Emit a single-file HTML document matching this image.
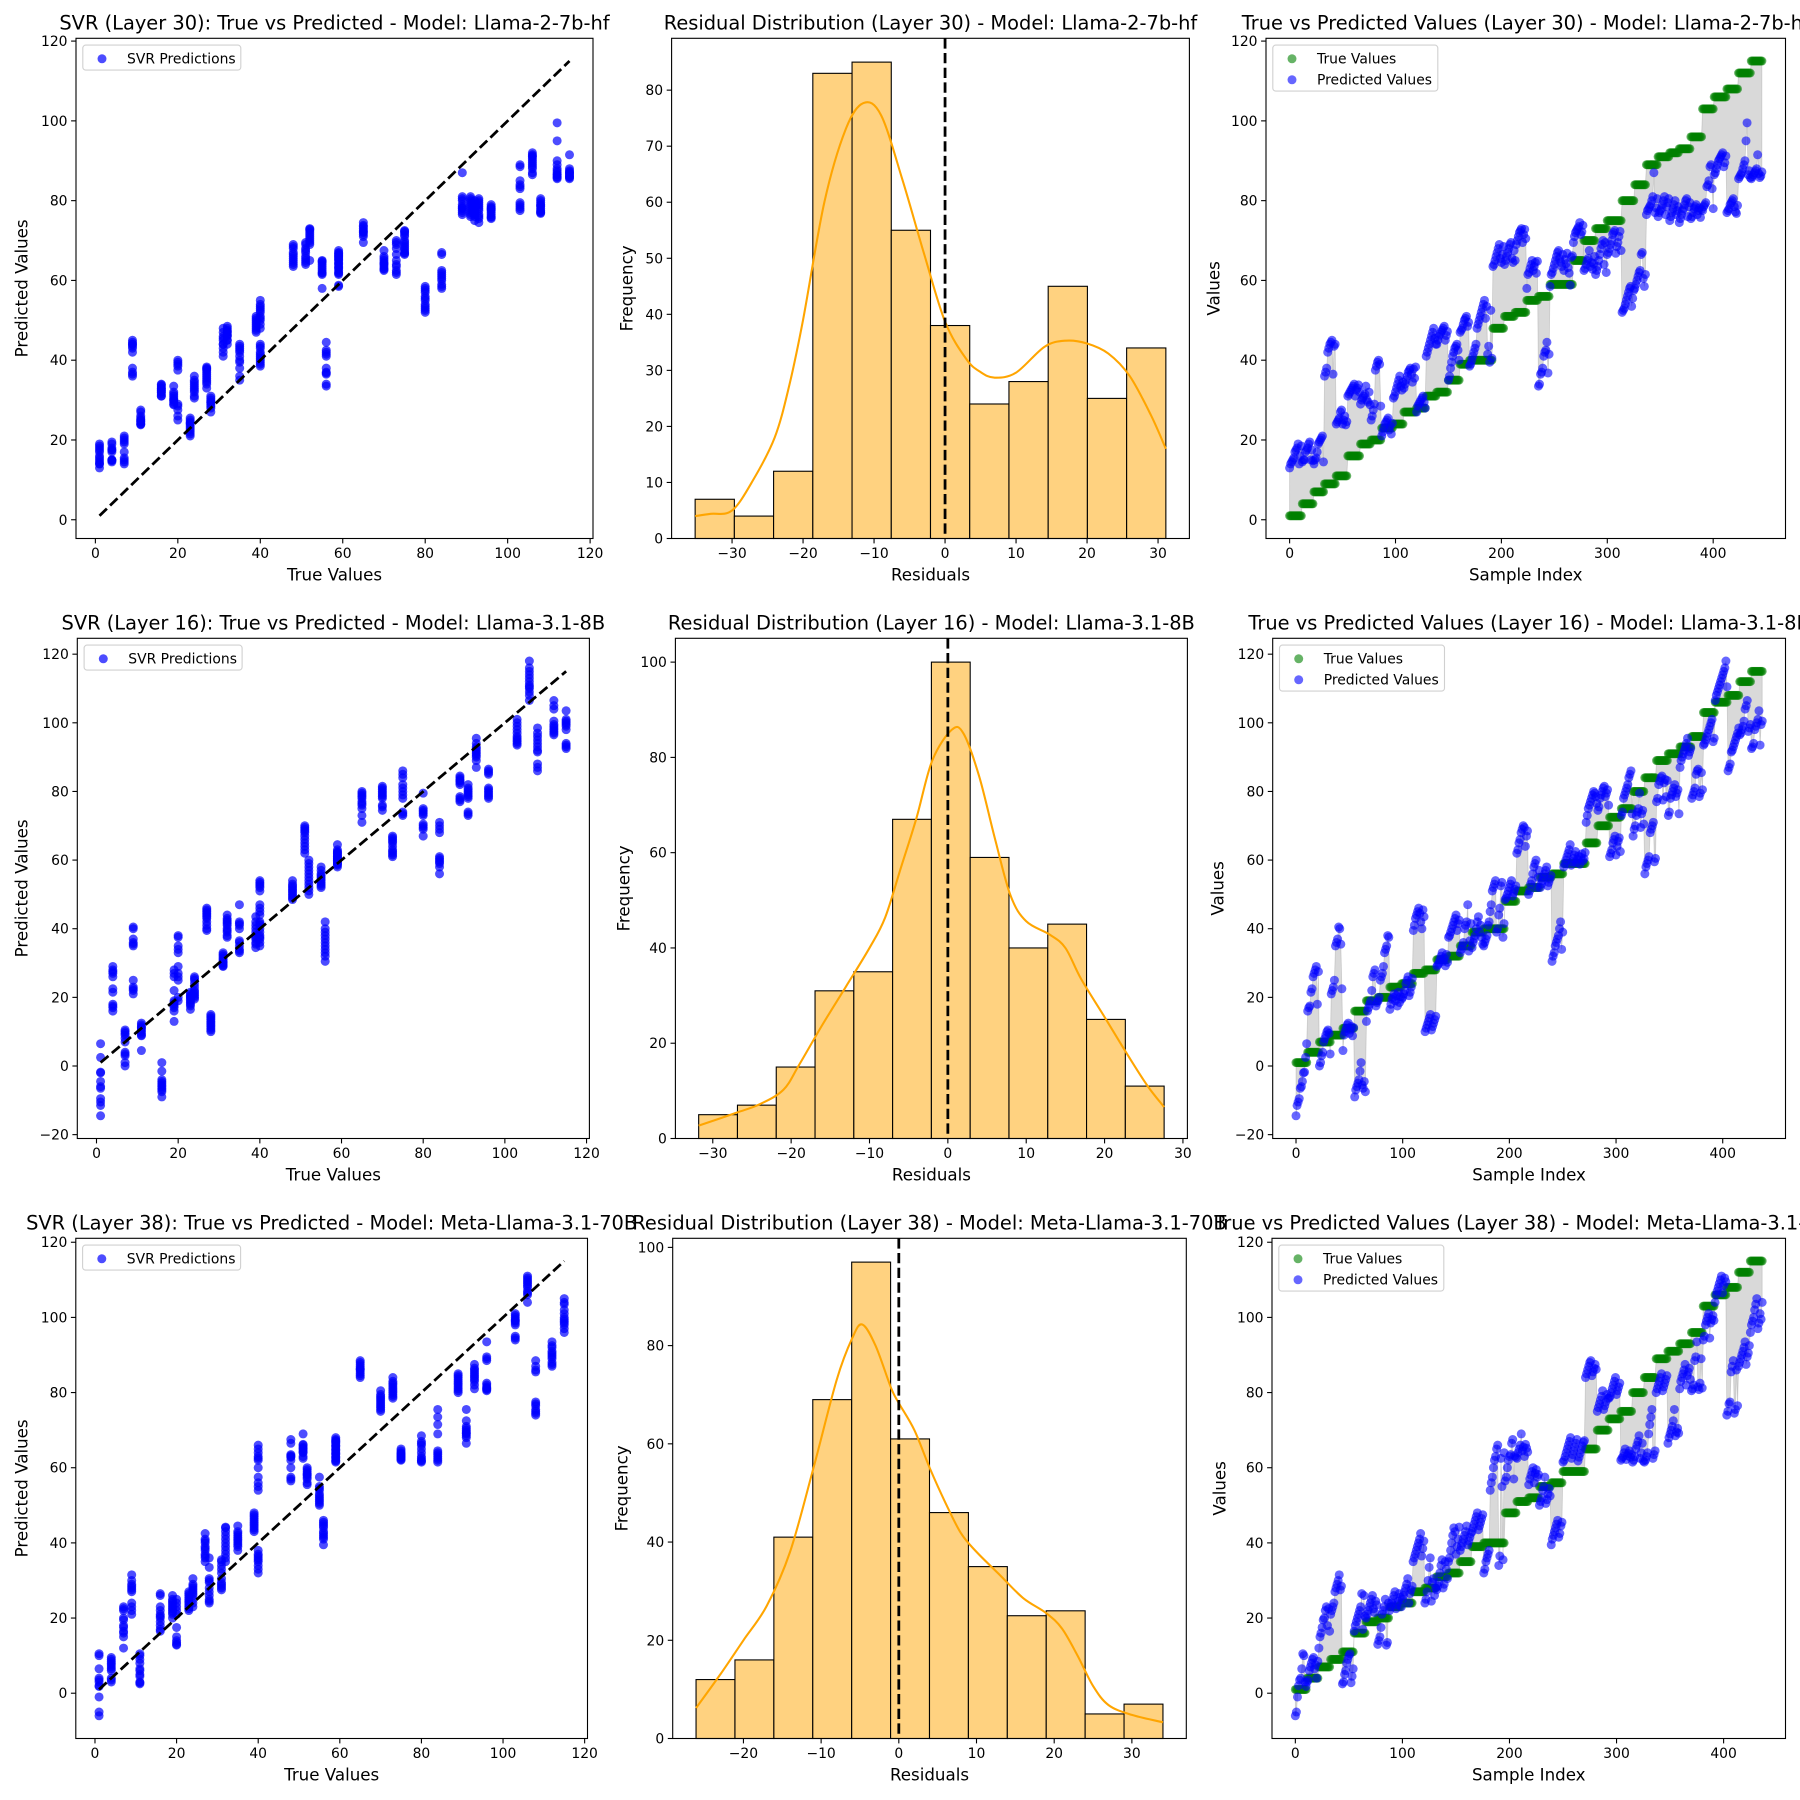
<!DOCTYPE html>
<html><head><meta charset="utf-8"><title>SVR results</title>
<style>html,body{margin:0;padding:0;background:#fff}svg{display:block}</style></head>
<body>
<svg id="fig" xmlns="http://www.w3.org/2000/svg" width="1800" height="1800" viewBox="0 0 1800 1800" font-family="DejaVu Sans, Liberation Sans, sans-serif">
<rect x="0" y="0" width="1800" height="1800" fill="#fff"/>
</svg>
<script>
// ---------- Row 1 data (Layer 30, Llama-2-7b-hf) ----------
const r1True = [1,4,7,9,11,16,19,20,23,24,27,28,31,32,35,39,40,48,51,52,55,56,59,65,70,73,75,80,84,89,91,92,93,96,103,106,108,112,115];
const r1Pred = [
[13,14,14.5,15,15.5,17,17.5,18,19,14,16,18.5],[14.5,15,15,17,17.5,18,19,19.5,15,17.5,14.8],[14,15,15.5,17,19,19.5,20,20.5,21,14.5],
[36,37,38,42,43,44,44.5,45,36.5,43.5,44],[24,24.5,25,25.5,27,27.5,24,25,26,23.8,24.6],[31,31.5,32,32.5,33,33.5,34,31,32.5,33,33.8,32],
[29,30,30.5,31,31.5,33.5,30,29.5,32,28.8],[25,26,27.5,29,37.5,38.5,39.5,40,39,28.5],[21,22,23,24,24.5,25,25.5,22.5,23.5,21.5,24.2],
[30.5,31,32,33,34,35,36,33.5,32.5,34.5],[33,34,35,36,37,37.5,38,36.5,34.5,37.8,35.5,38.3],[27,28.5,29,29.5,30,30.5,31,29.5,28],
[41,42,43,44,45,46,47,48,45.5,44],[44,45,46,46.5,47,47.5,48,48.5,45,46.2,47.2],[35,36,38,39.5,41,42,43,43.5,44,42.5,40],
[47,47.5,48,49,50,50.5,51,48.5,49.5],[38.5,39,40,41,42,43,44,48,49,50,51,52,53,54,55,50.5,53.5,41.5,43.5,39.5,52.5,40.5],
[63.5,64,65,66,67,68,69,65.5,64.5,66.5,68.5],[64,65,66,67,68,69,69.5,65.5,64.5,67.5],[65,69,70,71,72,72.5,73,69.5,71.5,72.8,70.5],
[58,61.5,62,63,64,65,62.5,63.5,64.5,61.8,64.8],[33.5,34,36.5,37,38,41,42,42.5,44.5,36.8,41.5],
[58.5,61.5,62,63,64,65,66,67,67.5,65.5,64.5,63.5,66.5,62.5,65.2,64.2,66.8,63.2,61.8,58.8,65.8,66.2],
[69.5,71,72,72.5,73,73.5,74.5,71.5,72.2,73.8],[62.5,63,64,65,65.5,67.5,63.5,64.5,62.8,64.2,66],[61.5,62.5,63.5,65,66.5,68,69,70,64,69.5,62],
[66.5,67,68,69,70,71.5,72,72.5,66.8,68.5,69.5,71,72.3,67.5],[52,52.5,53,54,55,56,57,58,58.5,53.5,55.5,57.5],[58,59,60,61,62,62.5,66.5,67,60.5,58.5,61.5],
[76.5,77.5,78,78.5,79,80,81,87,77,78.2,80.5],[76,77,77.5,78,79,80,81,76.5,78.5,79.5,80.5],[75,76,77,78,79,80,76.5,77.5,78.5],
[74.5,75.5,76.5,77.5,78,79,80,80.5,76,78.5,79.5],[75.5,76,77,78,78.5,79,76.5,77.5,78.2,75.8,77.8],[77.5,78.5,79,79.5,83.5,84,85,88.5,89,83,78],
[86.5,87,88,89,90,90.5,91,91.5,92,88.5,89.5,91.2],[77,77.5,78,79,79.5,80,80.5,78.5,77.2,76.8,78.8],[85.5,86,86.5,87,88,89,90,95,99.5,86.5,87.5,85.8],
[85.5,86,86.5,87,87.5,88,91.5,86.8,85.8,86.2,87.2]];
const r1HistRange = [-35.2, 31.1];
const r1HistCounts = [7,4,12,83,85,55,38,24,28,45,25,34];
const r1KdeX = [-35.2,-33,-30,-27,-24,-22,-20,-17,-14,-11.5,-9,-6,-3,0,3,5,7,10,14,17,20,23,26,29,31.1];
const r1KdeY = [4,4.4,5,10.5,18,27,39,60,73,77.7,75.5,64,51,38.7,32,29.7,28.7,29.6,34.2,35.3,34.8,33,29,22,16];
const r1HistYStep = 10;

// ---------- Row 2 data (Layer 16, Llama-3.1-8B) ----------
const r2True = [1,4,7,9,11,16,19,20,23,24,27,28,31,32,35,39,40,48,51,52,55,56,59,65,70,72.5,75,80,84,89,91,93,96,103,106,108,112,115];
const r2Pred = [
[-14.5,-11.5,-10.5,-9.5,-6.5,-6,-4.5,-2,-1.8,2.5,6.5],[16,17,17.5,21.5,22.5,26,27,28,29,18,27.5],[0,1,3,4,7,8,9,10,10.5,9.5,3.5],
[21,22,23,25,35,36,37,40.5,40,35.5,22.5],[4.5,9,10,11,12,12.5,9.5,10.5,11.5,8.8,11.2],[-9,-7,-6,-5,-4,-1.5,1,-5.5,-6.5,-4.5,-7.5],
[13,16,17,18,19,22,26,27,28,17.5,18.5],[19,20,25,26,27,29,33,34,35,38,37.5],[16.5,18,19.5,20,21,19,20.5,17.5,21.5,18.5,20.2],
[19.5,20,21,22,24,25,26,20.5,21.5,23,25.5],[39.5,41,43,44,45,46,44.5,42,40,45.5,43.5],[10,11,12,13,14,15,10.5,11.5,12.5,13.5,14.5],
[29,29.5,30,31,32,33,30.5,31.5,29.2,32.5,30.2],[37.5,38,39,40,41,42,43,44,39.5,41.5,42.5],[33,34,35,36,40,41,42,47,33.5,36.5,41.5],
[34.5,36,37,38,40,42,43.5,39,41,37.5,35.5],[35,36,37,38,41,42,45,47,51,52,53,54,39,40,44,46,52.5,53.5,37.5,41.5],
[48.5,49,50,51,52,53,54,49.5,50.5,51.5,52.5],[62,63,65,66,68,69,70,69.5,64,67,68.5],[50,51,53,54,56,58,59,60,52,55,57],
[52,53,54,55,56,57,58,52.5,53.5,54.5,55.5],[30.5,32,33,35,36,37,38,40,42,34,39],
[58,59,60,61,62,63,64.5,58.5,59.5,60.5,61.5,62.5,59.2,60.2,61.2,58.8,60.8,61.8,59.8,60.4,62.2],
[71,73,75,76,77,78,79,80,79.5,78.5,76.5],[74.5,75.5,78,79,80,81,81.5,78.5,79.5,80.5,76],[61,62,63,65,66,67,61.5,64,65.5,66.5,62.5],
[73,74,78,79,80,81,82,84,85,86,73.5],[67,69,70,73,74,75,79.5,69.5,73.5,74.5,70.5],[56,58,59,60,61,68,69,70,71,59.5,60.5],
[77,78,82,83,84,84.5,77.5,82.5,83.5,78.5,83.2],[73,74,78,79,80,81,82,78.5,79.5,80.5,73.5],[87,89,90,91,92,93,94,95.5,90.5,91.5,92.5],
[78,79,80,81,85,86,86.5,78.5,79.5,85.5,80.5],[93.5,94,95,96,97,98,99,100,101,94.5,95.5],[106.5,108,109,110,111,112,113,114,115,116,118,110.5],
[86,87,88,91.5,92,93,94,95,96,97,98.5],[96.5,97,98,99,100.5,104,105,106.5,97.5,98.5,99.5],[92.5,93,94,98,99,100,101,103.5,93.5,99.5,100.5]];
const r2HistRange = [-31.8, 27.6];
const r2HistCounts = [5,7,15,31,35,67,100,59,40,45,25,11];
const r2KdeX = [-31.8,-27,-24,-21,-19,-16,-13,-10,-8,-6,-4,-2,0.5,2,4,6,8,10,13,15,17,20,23,25.5,27.6];
const r2KdeY = [2.7,5.4,7.2,10.2,15.4,23.9,31.9,40,46.4,56.8,67.3,79.3,85.8,85,76,63,51,45.6,42.8,40,33.5,25.5,17.4,11,6.6];
const r2HistYStep = 20;

// ---------- Row 3 data (Layer 38, Meta-Llama-3.1-70B) ----------
const r3True = [1,4,7,9,11,16,19,20,23,24,27,28,31,32,35,39,40,48,51,52,55,56,59,65,70,73,75,80,84,89,91,93,96,103,106,108,112,115];
const r3Pred = [
[-6,-5,-1,2,3.5,4,6.5,10.5,10,3,1.8],[3,3.5,6,7,8,9,9.5,6.5,7.5,4,8.5],[12,15,16,17.5,19.5,20,22,23,18,22.5,16.5],
[21,22,23,24,27,28,29,30,31.5,27.5,28.5],[2.5,3,5,6,8,9,10,10.5,2.8,4.5,6.5],[16.5,18,19,20,21,22,23,26.5,17,26,20.5],
[20,21,22,23,24,25,26,22.5,21.5,24.5,23.5],[13,14,15,17.5,21,22,23,25,12.8,13.5,24],[22,23,24,25,26,27,22.5,23.5,24.5,26.5,25.5],
[23,25,26,27,28,29,30.5,24,26.5,27.5,28.5],[35,36,37,38,39,40,41,42.5,36.5,38.5,40.5],[24,25,27,30,33.5,36,24.5,29.5,30.5,26,28],
[27.5,28.5,29.5,32,34,35.5,28,29,35,33,30.5],[35,36,38,40,42,44,43,37,39,41,44.2],[38,39,40,41,42,43,44.5,39.5,40.5,41.5,42.5],
[43,44,45,46,47,48,43.5,44.5,45.5,46.5,47.5],[32,33,35,36,37,38,54,56,57.5,60,62,63,65,66,34,36.5,62.5,55,35.5,64],
[56.5,57.5,60,62,63,63.5,66.5,67.5,57,63.2,62.8],[62.5,64,65,66,69,64.5,65.5,63,66.2,65.2,64.2],[55.5,57,58,59,60,56,58.5,59.5,57.5,58.2],
[50,51,52,54,55,57.5,50.5,51.5,53,54.5,52.5],[39.5,41,42,43,44,45,46,41.5,42.5,44.5,45.5],
[61.5,62,63,64,65,66,67,68,62.5,63.5,64.5,65.5,66.5,67.5,61.8,62.8,63.8,64.8,65.8,66.8,67.2],
[84,85,86,87,88,88.5,84.5,85.5,86.5,87.5,86.2],[75,76,77,78,79,80.5,75.5,76.5,77.5,79.5,78.5],[78.5,79,80,81,82,83,84,79.5,80.5,81.5,82.5],
[62,62.5,63,64,65,62.2,63.2,63.8,64.5,62.8,63.5],[61.5,62,63,65,66,67,68.5,62.5,64,66.5,61.8],[61.5,62,63,64,69,71.5,73.5,75.5,62.5,63.5,64.5],
[80,81,82,83,84,85,80.5,81.5,82.5,83.5,84.5],[66.5,68,69,70,71,72.5,75.5,68.5,69.5,70.5,69.2],[81,83,84,85,86,87.5,82,84.5,85.5,86.5,83.5],
[80.5,81,82,88.5,89.5,93.5,81.5,80.8,82.5,89,81.2],[94,95,98,99,100,101,94.5,98.5,99.5,100.5,99.2],[104,106,107,108,109,110,111,106.5,108.5,110.5,109.5],
[74,75,77,77.5,85.5,87,88.5,74.5,75.5,86,76.5],[87,88,89,90,91,92,93.5,87.5,89.5,90.5,92.5],[96,98,99,100,102,103.5,105,97,98.5,101,99.5,104]];
const r3HistRange = [-26.1, 34.0];
const r3HistCounts = [12,16,41,69,97,61,46,35,25,26,5,7];
const r3KdeX = [-26.1,-23,-20,-17,-14,-11,-8,-6,-4.7,-3,-1,0,2,4,6,8,10,13,16,19,21,23,25,27,30,34];
const r3KdeY = [6.2,13,20,27,38,55,73,81.5,84.3,80,71.4,68.3,62.8,55,48,41.8,38,33.3,28.6,25.5,22.4,16.9,10.7,6.8,4.8,3.3];
const r3HistYStep = 20;

const rowTitles = [
  ["SVR (Layer 30): True vs Predicted - Model: Llama-2-7b-hf","Residual Distribution (Layer 30) - Model: Llama-2-7b-hf","True vs Predicted Values (Layer 30) - Model: Llama-2-7b-hf"],
  ["SVR (Layer 16): True vs Predicted - Model: Llama-3.1-8B","Residual Distribution (Layer 16) - Model: Llama-3.1-8B","True vs Predicted Values (Layer 16) - Model: Llama-3.1-8B"],
  ["SVR (Layer 38): True vs Predicted - Model: Meta-Llama-3.1-70B","Residual Distribution (Layer 38) - Model: Meta-Llama-3.1-70B","True vs Predicted Values (Layer 38) - Model: Meta-Llama-3.1-70B"]];

// layout (pixel geometry only)
const layout = [
  {T:38.3,B:538.5,A:[76,593,22],H:[671.6,1189.4,627],C:[1266,1785.5,1214]},
  {T:638.3,B:1138.5,A:[77.3,589.4,22],H:[675.4,1187.4,624],C:[1272.7,1785.5,1218]},
  {T:1238.3,B:1738.5,A:[75.8,587.5,22],H:[672.7,1186.3,622],C:[1272,1785.5,1220]}];

const NS = 'http://www.w3.org/2000/svg';
const svg = document.getElementById('fig');
const MR = 4.5;
function mk(tag, attrs, parent){ const e=document.createElementNS(NS,tag); for(const k in attrs) e.setAttribute(k,attrs[k]); parent.appendChild(e); return e; }
function lin(d0,d1,r0,r1){ return v => r0 + (v-d0)*(r1-r0)/(d1-d0); }
function fmt(v){ return v<0 ? '\u2212'+Math.abs(v) : String(v); }
function pad(lo,hi){ const r=hi-lo; return [lo-0.05*r, hi+0.05*r]; }
function ticks(d0,d1,step){ const out=[]; for(let v=Math.ceil(d0/step-1e-9)*step; v<=d1+1e-9; v+=step) out.push(Math.round(v*1000)/1000); return out; }

function drawAxes(g,L,R,T,B,sx,sy,xt,yt,xlab,ylab,ylx,title){
  const frame = mk('rect',{x:L,y:T,width:R-L,height:B-T,fill:'none',stroke:'#000','stroke-width':1.1},g);
  
  
  xt.forEach(v=>{
    const x=sx(v);
    const tk=mk('line',{x1:x,x2:x,y1:B,y2:B+4.9,stroke:'#000','stroke-width':1.1},g);
    
    
    const t=mk('text',{x:x,y:B+19.5,'font-size':13.9,'text-anchor':'middle',fill:'#000'},g);
    t.textContent=fmt(v);
    
    
  });
  yt.forEach(v=>{
    const y=sy(v);
    const tk=mk('line',{x1:L-4.9,x2:L,y1:y,y2:y,stroke:'#000','stroke-width':1.1},g);
    
    
    const t=mk('text',{x:L-8.5,y:y+5,'font-size':13.9,'text-anchor':'end',fill:'#000'},g);
    t.textContent=fmt(v);
    
    
  });
  const xl=mk('text',{x:(L+R)/2,y:B+42,'font-size':16.67,'text-anchor':'middle',fill:'#000'},g);
  xl.textContent=xlab;
  
  
  const cy=(T+B)/2;
  const yl=mk('text',{x:ylx,y:cy,'font-size':16.67,'text-anchor':'middle','dominant-baseline':'central',transform:'rotate(-90 '+ylx+' '+cy+')',fill:'#000'},g);
  yl.textContent=ylab;
  
  
  const tt=mk('text',{x:(L+R)/2,y:T-8.6,'font-size':19.4,'text-anchor':'middle',fill:'#000'},g);
  tt.textContent=title;
  
  
}

function legendBox(g,L,T,w,h,items){
  const lg=mk('g',{},g);
  
  
  const bx=mk('rect',{x:L+6.8,y:T+6.8,width:w,height:h,rx:3,fill:'#fff','fill-opacity':0.8,stroke:'#d0d0d0','stroke-width':1.1},lg);
  
  
  items.forEach((it,i)=>{
    const c=mk('circle',{cx:L+26,cy:T+20.5+21*i,r:MR,fill:it.color,'fill-opacity':it.alpha},lg);
    
    
    const t=mk('text',{x:L+51,y:T+25+21*i,'font-size':13.9,fill:'#000'},lg);
    t.textContent=it.label;
    
    
  });
}

function flatten(trues,preds){ const xs=[],ys=[]; trues.forEach((tv,i)=>preds[i].forEach(p=>{xs.push(tv);ys.push(p);})); return [xs,ys]; }

function scatterPanel(g,L,R,T,B,ylx,trues,preds,title){
  const [xs,ys]=flatten(trues,preds);
  const xd=pad(Math.min(...xs),Math.max(...xs));
  const all=xs.concat(ys);
  const yd=pad(Math.min(...all),Math.max(...all));
  const sx=lin(xd[0],xd[1],L,R), sy=lin(yd[0],yd[1],B,T);
  const pts=mk('g',{fill:'#0000ff','fill-opacity':0.7},g);
  
  
  xs.forEach((x,i)=>{
    const c=mk('circle',{cx:sx(x),cy:sy(ys[i]),r:MR},pts);
    
    
  });
  const lo=Math.min(...xs), hi=Math.max(...xs);
  const ln=mk('line',{x1:sx(lo),y1:sy(lo),x2:sx(hi),y2:sy(hi),stroke:'#000','stroke-width':2.78,'stroke-dasharray':'10.3 4.4'},g);
  
  
  drawAxes(g,L,R,T,B,sx,sy,ticks(xd[0],xd[1],20),ticks(yd[0],yd[1],20),'True Values','Predicted Values',ylx,title);
  legendBox(g,L,T,158,25,[{color:'#0000ff',alpha:0.7,label:'SVR Predictions'}]);
}

function smoothPath(p){
  let d='M'+p[0][0]+','+p[0][1];
  for(let i=0;i<p.length-1;i++){
    const p0=p[i-1]||p[i], p1=p[i], p2=p[i+1], p3=p[i+2]||p[i+1];
    const c1=[p1[0]+(p2[0]-p0[0])/6, p1[1]+(p2[1]-p0[1])/6];
    const c2=[p2[0]-(p3[0]-p1[0])/6, p2[1]-(p3[1]-p1[1])/6];
    d+=' C'+c1[0]+','+c1[1]+' '+c2[0]+','+c2[1]+' '+p2[0]+','+p2[1];
  }
  return d;
}

function histPanel(g,L,R,T,B,ylx,range,counts,kx,ky,ystep,title){
  const xd=pad(range[0],range[1]);
  const yd=[0,Math.max(...counts,...ky)*1.05];
  const sx=lin(xd[0],xd[1],L,R), sy=lin(yd[0],yd[1],B,T);
  const w=(range[1]-range[0])/counts.length;
  const bars=mk('g',{},g);
  
  
  counts.forEach((c,i)=>{
    const x0=sx(range[0]+i*w), x1=sx(range[0]+(i+1)*w);
    const r=mk('rect',{x:x0,y:sy(c),width:x1-x0,height:sy(0)-sy(c),fill:'#ffd280',stroke:'#000','stroke-width':1.1},bars);
    
    
  });
  const kp=kx.map((x,i)=>[sx(x),sy(ky[i])]);
  const k=mk('path',{d:smoothPath(kp),fill:'none',stroke:'#ffa500','stroke-width':2.08},g);
  
  
  const vl=mk('line',{x1:sx(0),x2:sx(0),y1:T,y2:B,stroke:'#000','stroke-width':2.78,'stroke-dasharray':'10.3 4.4'},g);
  
  
  drawAxes(g,L,R,T,B,sx,sy,ticks(xd[0],xd[1],10),ticks(yd[0],yd[1],ystep),'Residuals','Frequency',ylx,title);
}

function indexPanel(g,L,R,T,B,ylx,trues,preds,title){
  const [ts,ps]=flatten(trues,preds);
  const n=ts.length;
  const xd=pad(0,n-1);
  const all=ts.concat(ps);
  const yd=pad(Math.min(...all),Math.max(...all));
  const sx=lin(xd[0],xd[1],L,R), sy=lin(yd[0],yd[1],B,T);
  let d='';
  ts.forEach((v,i)=>{ d+=(i?'L':'M')+sx(i)+','+sy(v)+' '; });
  for(let i=n-1;i>=0;i--) d+='L'+sx(i)+','+sy(ps[i])+' ';
  const f=mk('path',{d:d+'Z',fill:'#808080','fill-opacity':0.3,stroke:'#808080','stroke-opacity':0.3,'stroke-width':0.8},g);
  
  
  const gt=mk('g',{fill:'#008000','fill-opacity':0.6},g);
  
  
  ts.forEach((v,i)=>{
    const c=mk('circle',{cx:sx(i),cy:sy(v),r:MR},gt);
    
    
  });
  const gp=mk('g',{fill:'#0000ff','fill-opacity':0.6},g);
  
  
  ps.forEach((v,i)=>{
    const c=mk('circle',{cx:sx(i),cy:sy(v),r:MR},gp);
    
    
  });
  drawAxes(g,L,R,T,B,sx,sy,ticks(xd[0],xd[1],100),ticks(yd[0],yd[1],20),'Sample Index','Values',ylx,title);
  legendBox(g,L,T,165,46,[{color:'#008000',alpha:0.6,label:'True Values'},{color:'#0000ff',alpha:0.6,label:'Predicted Values'}]);
}

const rows=[
  {t:r1True,p:r1Pred,hr:r1HistRange,hc:r1HistCounts,kx:r1KdeX,ky:r1KdeY,hs:r1HistYStep},
  {t:r2True,p:r2Pred,hr:r2HistRange,hc:r2HistCounts,kx:r2KdeX,ky:r2KdeY,hs:r2HistYStep},
  {t:r3True,p:r3Pred,hr:r3HistRange,hc:r3HistCounts,kx:r3KdeX,ky:r3KdeY,hs:r3HistYStep}];

rows.forEach((r,i)=>{
  const lo=layout[i];
  const gA=mk('g',{},svg);
  
  
  scatterPanel(gA,lo.A[0],lo.A[1],lo.T,lo.B,lo.A[2],r.t,r.p,rowTitles[i][0]);
  const gH=mk('g',{},svg);
  
  
  histPanel(gH,lo.H[0],lo.H[1],lo.T,lo.B,lo.H[2],r.hr,r.hc,r.kx,r.ky,r.hs,rowTitles[i][1]);
  const gC=mk('g',{},svg);
  
  
  indexPanel(gC,lo.C[0],lo.C[1],lo.T,lo.B,lo.C[2],r.t,r.p,rowTitles[i][2]);
});
</script>
</body></html>
